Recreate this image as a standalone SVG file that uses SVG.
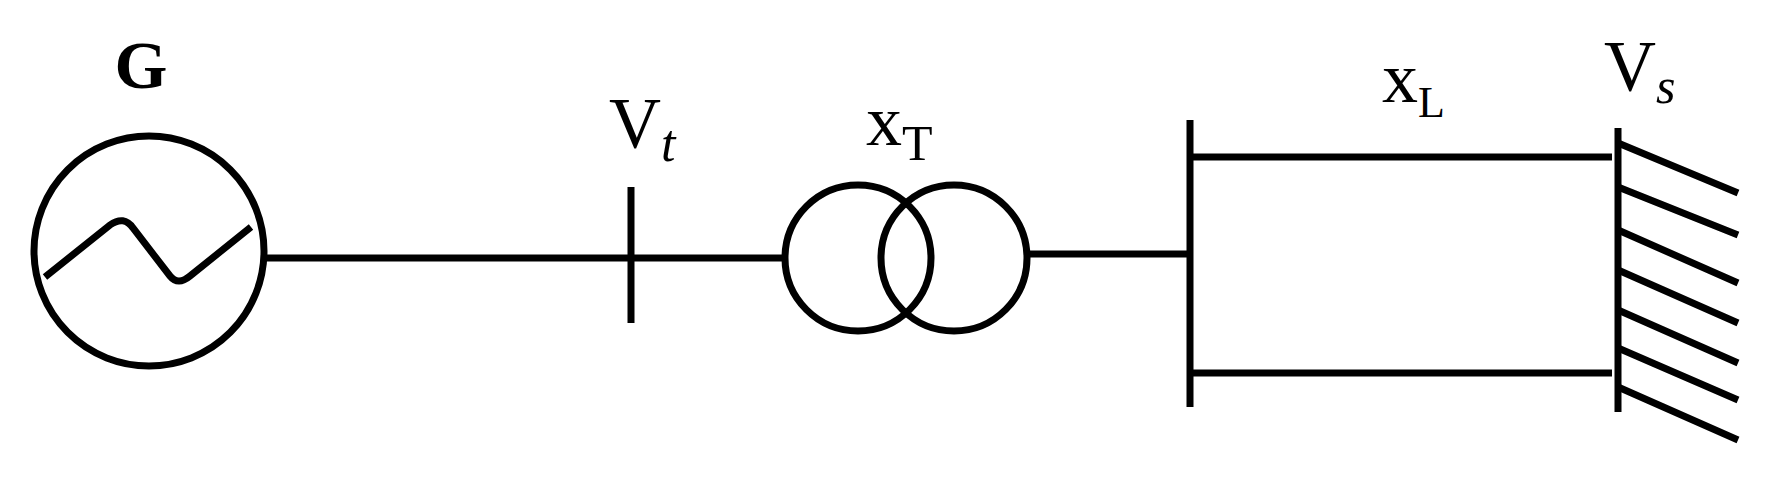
<svg xmlns="http://www.w3.org/2000/svg" width="1777" height="480" viewBox="0 0 1777 480">
<style>
.s{fill:none;stroke:#000;stroke-width:7}
.t{font-family:"Liberation Serif",serif;fill:#000}
</style>
<rect width="1777" height="480" fill="#fff"/>
<g id="generator">
<circle class="s" cx="149" cy="251" r="115" stroke-width="8"/>
<path class="s" d="M45 277 L110 225 Q124 215 133 228 L170 276 Q178 286 190 276 L251 227" stroke-width="5"/>
<text class="t" x="141" y="88" font-size="68" font-weight="bold" text-anchor="middle">G</text>
</g>
<g id="bus-vt">
<line class="s" x1="631" y1="187" x2="631" y2="323"/>
<text class="t" x="609" y="147" font-size="72">V<tspan font-style="italic" font-size="52" dy="14">t</tspan></text>
</g>
<g id="transformer">
<circle class="s" cx="858" cy="258" r="73"/>
<circle class="s" cx="954" cy="258" r="73"/>
<text class="t" x="866" y="145" font-size="72">x<tspan font-size="50" dy="15">T</tspan></text>
</g>
<g id="bus-2">
<line class="s" x1="1190" y1="120" x2="1190" y2="407"/>
</g>
<g id="line-xl">
<text class="t" x="1382" y="102" font-size="72">x<tspan font-size="44" dy="15">L</tspan></text>
</g>
<g id="infinite-bus">
<line class="s" x1="1618" y1="128" x2="1618" y2="412"/>
<path class="s" stroke-width="5" d="M1618 143 L1738 193 M1618 187 L1738 235 M1618 230 L1738 283 M1618 270 L1738 323 M1618 310 L1738 363 M1618 348 L1738 400 M1618 387 L1738 440"/>
<text class="t" x="1604" y="90" font-size="72">V<tspan font-style="italic" font-size="50" dy="13">s</tspan></text>
</g>
<g id="connectors">
<line class="s" stroke-width="5" x1="264" y1="258" x2="631" y2="258"/>
<line class="s" stroke-width="5" x1="631" y1="258" x2="785" y2="258"/>
<line class="s" x1="1027" y1="254" x2="1190" y2="254"/>
<line class="s" x1="1190" y1="157" x2="1612" y2="157"/>
<line class="s" x1="1190" y1="373" x2="1612" y2="373"/>
</g>
</svg>
